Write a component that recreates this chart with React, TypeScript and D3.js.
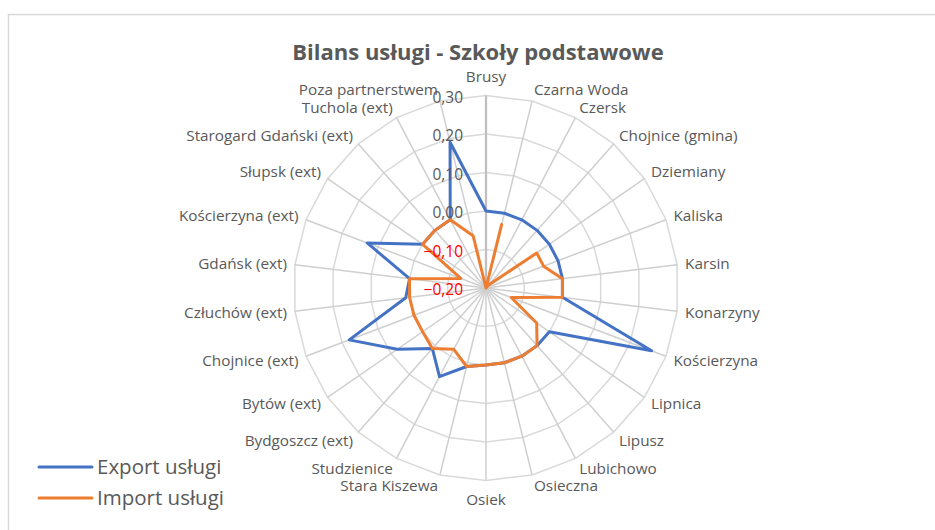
import React, { useEffect, useRef } from 'react';
import * as d3 from 'd3';

const categories = [
  'Brusy', 'Czarna Woda', 'Czersk', 'Chojnice (gmina)', 'Dziemiany', 'Kaliska', 'Karsin',
  'Konarzyny', 'Kościerzyna', 'Lipnica', 'Lipusz', 'Lubichowo', 'Osieczna', 'Osiek',
  'Stara Kiszewa', 'Studzienice', 'Bydgoszcz (ext)', 'Bytów (ext)', 'Chojnice (ext)',
  'Człuchów (ext)', 'Gdańsk (ext)', 'Kościerzyna (ext)', 'Słupsk (ext)',
  'Starogard Gdański (ext)', 'Tuchola (ext)', 'Poza partnerstwem',
];

const exportValues = [
  0.0, 0.0, 0.0, 0.0, 0.0, 0.0, 0.0,
  0.0, 0.26, 0.0, 0.0, 0.0, 0.0, 0.0,
  0.01, 0.06, 0.01, 0.08, 0.18,
  0.01, 0.0, 0.13, 0.0,
  0.0, 0.0, 0.19,
];

const importValues = [
  -0.2, -0.03, -0.2, -0.19, -0.04, -0.04, 0.0,
  0.0, -0.13, -0.04, 0.0, 0.0, 0.0, 0.0,
  0.01, -0.02, 0.01, 0.0, 0.0,
  0.0, 0.0, -0.13, 0.0,
  0.0, 0.0, -0.06,
];

const tickValues = [-0.2, -0.1, 0.0, 0.1, 0.2, 0.3];

const series = [
  { name: 'Export usługi', values: exportValues, color: '#4472C4' },
  { name: 'Import usługi', values: importValues, color: '#ED7D31' },
];

const App: React.FC = () => {
  const chartRef = useRef<HTMLDivElement>(null);

  useEffect(() => {
    if (!chartRef.current) return;
    document.body.style.margin = '0';
    d3.select(chartRef.current).selectAll('*').remove();

    const width = 935;
    const height = 530;
    const cx = 486;
    const cy = 288;
    const radius = 192.5;
    const font = "'Open Sans', 'Noto Sans', sans-serif";
    const textColor = '#595959';
    const gridColor = '#d9d9d9';

    const svg = d3.select(chartRef.current)
      .append('svg')
        .attr('width', width)
        .attr('height', height)
        .style('display', 'block');

    svg.append('rect')
      .attr('width', width)
      .attr('height', height)
      .attr('fill', '#fff');

    // chart frame (runs off right and bottom edges)
    svg.append('rect')
      .attr('x', 8.5)
      .attr('y', 14.5)
      .attr('width', width + 20)
      .attr('height', height + 20)
      .attr('fill', 'none')
      .attr('stroke', gridColor)
      .attr('stroke-width', 1.5);

    const r = d3.scaleLinear().domain([-0.2, 0.3]).range([0, radius]);
    const angle = d3.scaleLinear().domain([0, categories.length]).range([0, 2 * Math.PI]);

    const g = svg.append('g').attr('transform', `translate(${cx},${cy})`);

    // ring gridlines (polygons)
    const ring = d3.lineRadial<string>()
      .angle((_, i) => angle(i))
      .curve(d3.curveLinearClosed);

    tickValues.slice(1).forEach(t => {
      g.append('path')
        .attr('d', ring.radius(() => r(t))(categories))
        .attr('fill', 'none')
        .attr('stroke', gridColor)
        .attr('stroke-width', 1.5);
    });

    // spokes
    g.selectAll('.spoke')
      .data(categories)
      .enter()
      .append('line')
        .attr('class', 'spoke')
        .attr('x1', 0)
        .attr('y1', 0)
        .attr('x2', (_, i) => r(0.3) * Math.sin(angle(i)))
        .attr('y2', (_, i) => -r(0.3) * Math.cos(angle(i)))
        .attr('stroke', (_, i) => (i === 0 ? '#bfbfbf' : '#cfcfcf'))
        .attr('stroke-width', (_, i) => (i === 0 ? 2.25 : 1.5));

    // series
    const line = d3.lineRadial<number>()
      .angle((_, i) => angle(i))
      .radius(d => r(Math.max(d, -0.2)))
      .curve(d3.curveLinearClosed);

    series.forEach(s => {
      g.append('path')
        .attr('d', line(s.values))
        .attr('fill', 'none')
        .attr('stroke', s.color)
        .attr('stroke-width', 3)
        .attr('stroke-linejoin', 'round');
    });

    // value axis labels
    const fmt = d3.format('.2f');
    g.selectAll('.tick')
      .data(tickValues)
      .enter()
      .append('text')
        .attr('class', 'tick')
        .attr('x', -23)
        .attr('y', d => -r(d) + 2)
        .attr('dy', '0.35em')
        .attr('text-anchor', 'end')
        .attr('font-family', font)
        .attr('font-size', '15.5px')
        .attr('fill', d => (d < 0 ? '#FF0000' : textColor))
        .text(d => fmt(d).replace('.', ','));

    // category labels
    const gap = 8;
    g.selectAll('.cat')
      .data(categories)
      .enter()
      .append('text')
        .attr('class', 'cat')
        .attr('x', (_, i) => (radius + gap) * Math.sin(angle(i)))
        .attr('y', (_, i) => {
          const s = Math.sin(angle(i));
          const c = Math.cos(angle(i));
          const py = -(radius + gap) * c;
          return Math.abs(s) < 0.1 ? py - c * 11 : py - c * 3.5;
        })
        .attr('dy', '0.35em')
        .attr('text-anchor', (_, i) => {
          const s = Math.sin(angle(i));
          return Math.abs(s) < 0.1 ? 'middle' : s > 0 ? 'start' : 'end';
        })
        .attr('font-family', font)
        .attr('font-size', '15.3px')
        .attr('fill', textColor)
        .text(d => d);

    // title
    svg.append('text')
      .attr('x', 478)
      .attr('y', 60)
      .attr('text-anchor', 'middle')
      .attr('font-family', font)
      .attr('font-size', '22px')
      .attr('font-weight', 'bold')
      .attr('fill', textColor)
      .text('Bilans usługi - Szkoły podstawowe');

    // legend
    const legend = svg.append('g');
    series.forEach((s, i) => {
      const y = 467 + i * 31;
      legend.append('line')
        .attr('x1', 39)
        .attr('x2', 92)
        .attr('y1', y)
        .attr('y2', y)
        .attr('stroke', s.color)
        .attr('stroke-width', 3)
        .attr('stroke-linecap', 'round');
      legend.append('text')
        .attr('x', 97)
        .attr('y', y)
        .attr('dy', '0.35em')
        .attr('font-family', font)
        .attr('font-size', '20.5px')
        .attr('fill', textColor)
        .text(s.name);
    });
  }, []);

  return <div ref={chartRef} style={{ width: 935, height: 530 }}></div>;
};

export default App;
